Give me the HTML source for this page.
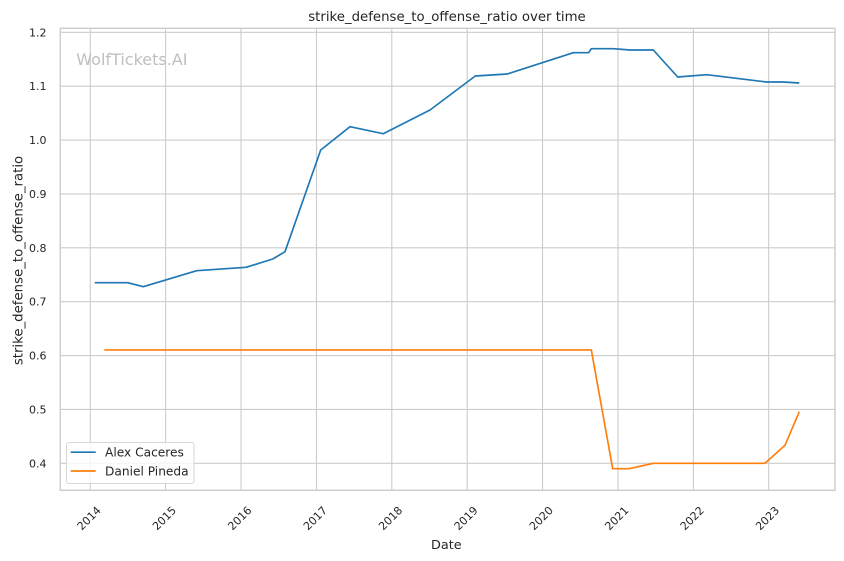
<!DOCTYPE html>
<html><head><meta charset="utf-8"><style>
html,body{margin:0;padding:0;background:#fff;}
svg{display:block;font-family:"DejaVu Sans","Liberation Sans",sans-serif;}
</style></head><body>
<svg width="844" height="561" viewBox="0 0 844 561" xmlns="http://www.w3.org/2000/svg">
<rect x="0" y="0" width="844" height="561" fill="#fff"/>
<!-- grid -->
<g stroke="#cccccc" stroke-width="1.1" fill="none">
<line x1="60" y1="32.3" x2="835" y2="32.3"/>
<line x1="60" y1="86.2" x2="835" y2="86.2"/>
<line x1="60" y1="140.05" x2="835" y2="140.05"/>
<line x1="60" y1="193.9" x2="835" y2="193.9"/>
<line x1="60" y1="247.8" x2="835" y2="247.8"/>
<line x1="60" y1="301.7" x2="835" y2="301.7"/>
<line x1="60" y1="355.55" x2="835" y2="355.55"/>
<line x1="60" y1="409.4" x2="835" y2="409.4"/>
<line x1="60" y1="463.3" x2="835" y2="463.3"/>
<line x1="90.3" y1="28" x2="90.3" y2="490"/>
<line x1="165.6" y1="28" x2="165.6" y2="490"/>
<line x1="241" y1="28" x2="241" y2="490"/>
<line x1="316.5" y1="28" x2="316.5" y2="490"/>
<line x1="391.8" y1="28" x2="391.8" y2="490"/>
<line x1="467.2" y1="28" x2="467.2" y2="490"/>
<line x1="542.5" y1="28" x2="542.5" y2="490"/>
<line x1="618" y1="28" x2="618" y2="490"/>
<line x1="693.4" y1="28" x2="693.4" y2="490"/>
<line x1="768.7" y1="28" x2="768.7" y2="490"/>
</g>
<rect x="60.3" y="28.3" width="774.7" height="462" fill="none" stroke="#cccccc" stroke-width="1.4"/>
<!-- watermark -->
<text x="76.3" y="65" font-size="16" fill="#bfbfbf">WolfTickets.AI</text>
<!-- series -->
<polyline fill="none" stroke="#1f77b4" stroke-width="1.67" stroke-linejoin="round" points="94.7,282.7 127.7,282.7 143.3,286.7 196.7,270.7 246,267.3 272.7,259 285,251.7 320.7,150 350,126.7 383.3,133.7 430,110 475.3,76 507.3,74 573.3,52.7 588.7,52.7 591.3,48.7 613.3,48.7 630,50 653.3,50 677.7,77 706.7,74.7 766.7,82 783.3,82 799.3,83"/>
<polyline fill="none" stroke="#ff7f0e" stroke-width="1.67" stroke-linejoin="round" points="104.3,349.9 591.3,349.9 612.7,468.7 629.3,468.7 653.3,463.3 765,463.3 785,445.3 799.3,411.7"/>
<!-- y ticks -->
<g font-size="11" fill="#262626" text-anchor="end">
<text x="46.5" y="36.3">1.2</text>
<text x="46.5" y="90.2">1.1</text>
<text x="46.5" y="144">1.0</text>
<text x="46.5" y="197.9">0.9</text>
<text x="46.5" y="251.8">0.8</text>
<text x="46.5" y="305.7">0.7</text>
<text x="46.5" y="359.5">0.6</text>
<text x="46.5" y="413.4">0.5</text>
<text x="46.5" y="467.3">0.4</text>
</g>
<!-- x ticks -->
<g font-size="11" fill="#262626" text-anchor="middle">
<text x="88.9" y="518.2" dy="0.36em" transform="rotate(-45 88.9 518.2)">2014</text>
<text x="164.2" y="518.2" dy="0.36em" transform="rotate(-45 164.2 518.2)">2015</text>
<text x="239.6" y="518.2" dy="0.36em" transform="rotate(-45 239.6 518.2)">2016</text>
<text x="315.1" y="518.2" dy="0.36em" transform="rotate(-45 315.1 518.2)">2017</text>
<text x="390.4" y="518.2" dy="0.36em" transform="rotate(-45 390.4 518.2)">2018</text>
<text x="465.8" y="518.2" dy="0.36em" transform="rotate(-45 465.8 518.2)">2019</text>
<text x="541.1" y="518.2" dy="0.36em" transform="rotate(-45 541.1 518.2)">2020</text>
<text x="616.6" y="518.2" dy="0.36em" transform="rotate(-45 616.6 518.2)">2021</text>
<text x="692" y="518.2" dy="0.36em" transform="rotate(-45 692 518.2)">2022</text>
<text x="767.3" y="518.2" dy="0.36em" transform="rotate(-45 767.3 518.2)">2023</text>
</g>
<!-- labels -->
<text x="447" y="21" font-size="13.3" fill="#262626" text-anchor="middle">strike_defense_to_offense_ratio over time</text>
<text x="446.3" y="549" font-size="12.8" fill="#262626" text-anchor="middle">Date</text>
<text x="0" y="0" font-size="13.3" fill="#262626" text-anchor="middle" transform="translate(22.5 260.5) rotate(-90)">strike_defense_to_offense_ratio</text>
<!-- legend -->
<rect x="66.5" y="442.5" width="127.5" height="41" rx="2.5" ry="2.5" fill="#ffffff" fill-opacity="0.8" stroke="#d6d6d6" stroke-width="1"/>
<line x1="70.7" y1="452.2" x2="95.7" y2="452.2" stroke="#1f77b4" stroke-width="1.67"/>
<line x1="70.7" y1="471" x2="95.7" y2="471" stroke="#ff7f0e" stroke-width="1.67"/>
<g font-size="12.2" fill="#262626">
<text x="105" y="456.6">Alex Caceres</text>
<text x="105" y="475.4">Daniel Pineda</text>
</g>
</svg>
</body></html>
